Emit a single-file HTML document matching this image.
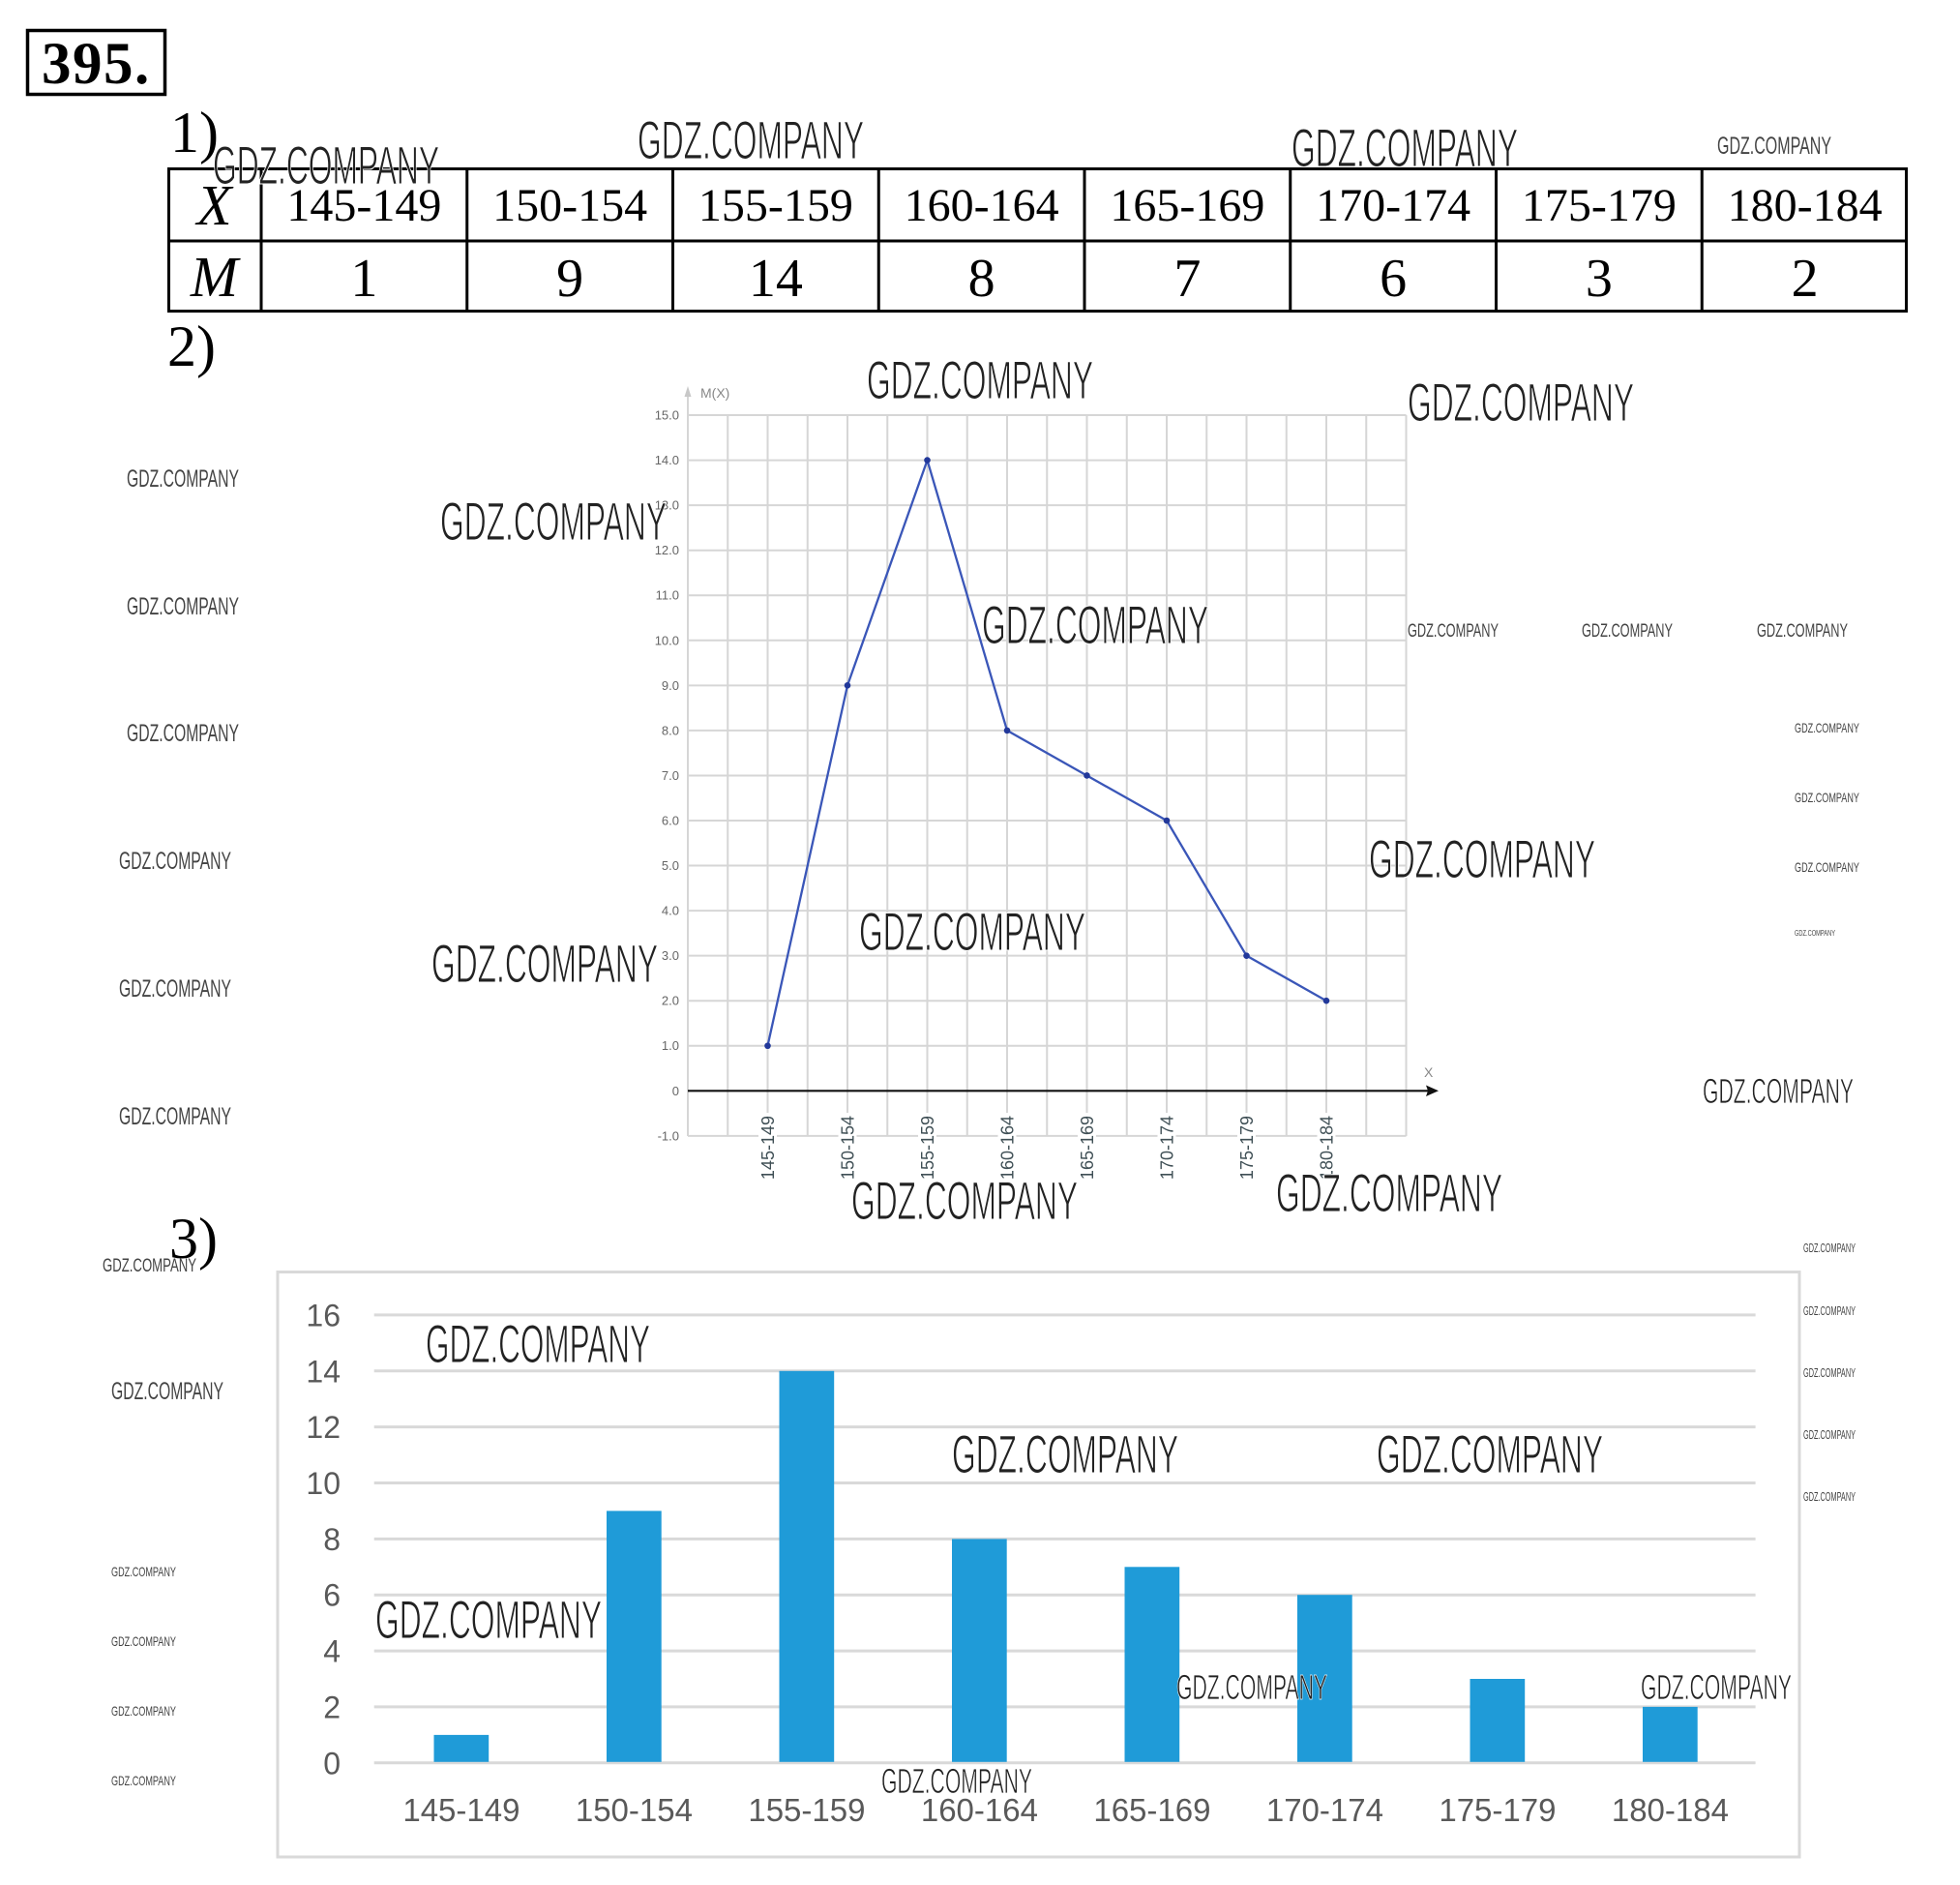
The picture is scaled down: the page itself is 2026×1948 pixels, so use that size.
<!DOCTYPE html>
<html>
<head>
<meta charset="utf-8">
<style>
  html,body{margin:0;padding:0;background:#fff;}
  body{width:2026px;height:1948px;overflow:hidden;}
  svg{display:block;}
  .serif{font-family:"Liberation Serif",serif;}
  .sans{font-family:"Liberation Sans",sans-serif;}
  .wm{font-family:"Liberation Sans Narrow","Liberation Sans",sans-serif;fill:#222;stroke:#fff;stroke-width:1.1px;}
  .wms{font-family:"Liberation Sans Narrow","Liberation Sans",sans-serif;fill:#444;}
</style>
</head>
<body>
<svg width="2026" height="1948" viewBox="0 0 2026 1948" xmlns="http://www.w3.org/2000/svg">
  <rect x="0" y="0" width="2026" height="1948" fill="#fff"/>

  <!-- 395. box -->
  <rect x="28.5" y="31.5" width="142" height="66" fill="none" stroke="#000" stroke-width="3.5"/>
  <text class="serif" x="43" y="86" font-size="61" font-weight="bold" letter-spacing="1.5">395.</text>

  <!-- section labels -->
  <text class="serif" x="176" y="157" font-size="60">1)</text>
  <text class="serif" x="173" y="378" font-size="60">2)</text>
  <text class="serif" x="175" y="1300" font-size="60">3)</text>

  <!-- TABLE -->
  <g stroke="#000" stroke-width="3" fill="none">
    <rect x="174.5" y="174.5" width="1796" height="147"/>
    <line x1="173" y1="249" x2="1972" y2="249"/>
    <line x1="270" y1="173" x2="270" y2="323"/>
    <line x1="482.75" y1="173" x2="482.75" y2="323"/>
    <line x1="695.5" y1="173" x2="695.5" y2="323"/>
    <line x1="908.25" y1="173" x2="908.25" y2="323"/>
    <line x1="1121" y1="173" x2="1121" y2="323"/>
    <line x1="1333.75" y1="173" x2="1333.75" y2="323"/>
    <line x1="1546.5" y1="173" x2="1546.5" y2="323"/>
    <line x1="1759.25" y1="173" x2="1759.25" y2="323"/>
  </g>
  <g class="serif" text-anchor="middle" fill="#000">
    <text x="221.5" y="232" font-size="59" font-style="italic">X</text>
    <text x="221.5" y="306" font-size="59" font-style="italic">M</text>
    <g font-size="48">
      <text x="376.4" y="228">145-149</text>
      <text x="589.1" y="228">150-154</text>
      <text x="801.9" y="228">155-159</text>
      <text x="1014.6" y="228">160-164</text>
      <text x="1227.4" y="228">165-169</text>
      <text x="1440.1" y="228">170-174</text>
      <text x="1652.9" y="228">175-179</text>
      <text x="1865.6" y="228">180-184</text>
    </g>
    <g font-size="56">
      <text x="376.4" y="306">1</text>
      <text x="589.1" y="306">9</text>
      <text x="801.9" y="306">14</text>
      <text x="1014.6" y="306">8</text>
      <text x="1227.4" y="306">7</text>
      <text x="1440.1" y="306">6</text>
      <text x="1652.9" y="306">3</text>
      <text x="1865.6" y="306">2</text>
    </g>
  </g>

  <!-- LINE CHART -->
  <g stroke="#d6d6d6" stroke-width="2" fill="none">
    <line x1="711" y1="429.05" x2="1453.5" y2="429.05"/>
    <line x1="711" y1="475.6" x2="1453.5" y2="475.6"/>
    <line x1="711" y1="522.15" x2="1453.5" y2="522.15"/>
    <line x1="711" y1="568.7" x2="1453.5" y2="568.7"/>
    <line x1="711" y1="615.25" x2="1453.5" y2="615.25"/>
    <line x1="711" y1="661.8" x2="1453.5" y2="661.8"/>
    <line x1="711" y1="708.35" x2="1453.5" y2="708.35"/>
    <line x1="711" y1="754.9" x2="1453.5" y2="754.9"/>
    <line x1="711" y1="801.45" x2="1453.5" y2="801.45"/>
    <line x1="711" y1="848" x2="1453.5" y2="848"/>
    <line x1="711" y1="894.55" x2="1453.5" y2="894.55"/>
    <line x1="711" y1="941.1" x2="1453.5" y2="941.1"/>
    <line x1="711" y1="987.65" x2="1453.5" y2="987.65"/>
    <line x1="711" y1="1034.2" x2="1453.5" y2="1034.2"/>
    <line x1="711" y1="1080.75" x2="1453.5" y2="1080.75"/>
    <line x1="711" y1="1173.85" x2="1453.5" y2="1173.85"/>
    <line x1="711" y1="429" x2="711" y2="1174"/>
    <line x1="752.25" y1="429" x2="752.25" y2="1174"/>
    <line x1="793.5" y1="429" x2="793.5" y2="1174"/>
    <line x1="834.75" y1="429" x2="834.75" y2="1174"/>
    <line x1="876" y1="429" x2="876" y2="1174"/>
    <line x1="917.25" y1="429" x2="917.25" y2="1174"/>
    <line x1="958.5" y1="429" x2="958.5" y2="1174"/>
    <line x1="999.75" y1="429" x2="999.75" y2="1174"/>
    <line x1="1041" y1="429" x2="1041" y2="1174"/>
    <line x1="1082.25" y1="429" x2="1082.25" y2="1174"/>
    <line x1="1123.5" y1="429" x2="1123.5" y2="1174"/>
    <line x1="1164.75" y1="429" x2="1164.75" y2="1174"/>
    <line x1="1206" y1="429" x2="1206" y2="1174"/>
    <line x1="1247.25" y1="429" x2="1247.25" y2="1174"/>
    <line x1="1288.5" y1="429" x2="1288.5" y2="1174"/>
    <line x1="1329.75" y1="429" x2="1329.75" y2="1174"/>
    <line x1="1371" y1="429" x2="1371" y2="1174"/>
    <line x1="1412.25" y1="429" x2="1412.25" y2="1174"/>
    <line x1="1453.5" y1="429" x2="1453.5" y2="1174"/>
    <line x1="711" y1="406" x2="711" y2="429"/>
  </g>
  <polygon points="711,399 707.5,410 714.5,410" fill="#c8c8c8"/>
  <text class="sans" x="724" y="411" font-size="14" fill="#888">M(X)</text>
  <line x1="711" y1="1127.3" x2="1478" y2="1127.3" stroke="#111" stroke-width="2.2"/>
  <polygon points="1487,1127.3 1474,1121.5 1476,1127.3 1474,1133" fill="#111"/>
  <text class="sans" x="1472" y="1113" font-size="14" fill="#888">X</text>
  <g class="sans" font-size="13" fill="#666" text-anchor="end">
    <text x="702" y="433.5">15.0</text>
    <text x="702" y="480">14.0</text>
    <text x="702" y="526.6">13.0</text>
    <text x="702" y="573.2">12.0</text>
    <text x="702" y="619.7">11.0</text>
    <text x="702" y="666.3">10.0</text>
    <text x="702" y="712.8">9.0</text>
    <text x="702" y="759.4">8.0</text>
    <text x="702" y="805.9">7.0</text>
    <text x="702" y="852.5">6.0</text>
    <text x="702" y="899">5.0</text>
    <text x="702" y="945.6">4.0</text>
    <text x="702" y="992.1">3.0</text>
    <text x="702" y="1038.7">2.0</text>
    <text x="702" y="1085.2">1.0</text>
    <text x="702" y="1131.8">0</text>
    <text x="702" y="1178.3">-1.0</text>
  </g>
  <polyline points="793.5,1080.75 876,708.35 958.5,475.6 1041,754.9 1123.5,801.45 1206,848 1288.5,987.65 1371,1034.2" fill="none" stroke="#3a56b8" stroke-width="2.3" stroke-linejoin="round"/>
  <g fill="#22389a">
    <circle cx="793.5" cy="1080.75" r="3.3"/>
    <circle cx="876" cy="708.35" r="3.3"/>
    <circle cx="958.5" cy="475.6" r="3.3"/>
    <circle cx="1041" cy="754.9" r="3.3"/>
    <circle cx="1123.5" cy="801.45" r="3.3"/>
    <circle cx="1206" cy="848" r="3.3"/>
    <circle cx="1288.5" cy="987.65" r="3.3"/>
    <circle cx="1371" cy="1034.2" r="3.3"/>
  </g>
  <g class="sans" font-size="18" fill="#3f4f55" text-anchor="end">
    <rect x="784" y="1150" width="19" height="70" fill="#fff"/>
    <rect x="866.5" y="1150" width="19" height="70" fill="#fff"/>
    <rect x="949" y="1150" width="19" height="70" fill="#fff"/>
    <rect x="1031.5" y="1150" width="19" height="70" fill="#fff"/>
    <rect x="1114" y="1150" width="19" height="70" fill="#fff"/>
    <rect x="1196.5" y="1150" width="19" height="70" fill="#fff"/>
    <rect x="1279" y="1150" width="19" height="70" fill="#fff"/>
    <rect x="1361.5" y="1150" width="19" height="70" fill="#fff"/>
    <text transform="translate(800,1153) rotate(-90)">145-149</text>
    <text transform="translate(882.5,1153) rotate(-90)">150-154</text>
    <text transform="translate(965,1153) rotate(-90)">155-159</text>
    <text transform="translate(1047.5,1153) rotate(-90)">160-164</text>
    <text transform="translate(1130,1153) rotate(-90)">165-169</text>
    <text transform="translate(1212.5,1153) rotate(-90)">170-174</text>
    <text transform="translate(1295,1153) rotate(-90)">175-179</text>
    <text transform="translate(1377.5,1153) rotate(-90)">180-184</text>
  </g>

  <!-- BAR CHART -->
  <rect x="287" y="1314.5" width="1573" height="604.5" fill="none" stroke="#d9d9d9" stroke-width="3"/>
  <g stroke="#d9d9d9" stroke-width="3">
    <line x1="386.7" y1="1358.9" x2="1814.6" y2="1358.9"/>
    <line x1="386.7" y1="1416.8" x2="1814.6" y2="1416.8"/>
    <line x1="386.7" y1="1474.6" x2="1814.6" y2="1474.6"/>
    <line x1="386.7" y1="1532.5" x2="1814.6" y2="1532.5"/>
    <line x1="386.7" y1="1590.4" x2="1814.6" y2="1590.4"/>
    <line x1="386.7" y1="1648.2" x2="1814.6" y2="1648.2"/>
    <line x1="386.7" y1="1706.1" x2="1814.6" y2="1706.1"/>
    <line x1="386.7" y1="1763.9" x2="1814.6" y2="1763.9"/>
    <line x1="386.7" y1="1821.8" x2="1814.6" y2="1821.8"/>
  </g>
  <g fill="#1f9bd8">
    <rect x="448.5" y="1792.9" width="56.7" height="27.9"/>
    <rect x="627.0" y="1561.4" width="56.7" height="259.4"/>
    <rect x="805.5" y="1416.8" width="56.7" height="404"/>
    <rect x="984.0" y="1590.4" width="56.7" height="230.4"/>
    <rect x="1162.5" y="1619.3" width="56.7" height="201.5"/>
    <rect x="1341.0" y="1648.2" width="56.7" height="172.6"/>
    <rect x="1519.5" y="1735.0" width="56.7" height="85.8"/>
    <rect x="1698.0" y="1763.9" width="56.7" height="56.9"/>
  </g>
  <g class="sans" font-size="32" fill="#595959" text-anchor="end">
    <text x="352" y="1370.4">16</text>
    <text x="352" y="1428.3">14</text>
    <text x="352" y="1486.1">12</text>
    <text x="352" y="1544">10</text>
    <text x="352" y="1601.9">8</text>
    <text x="352" y="1659.7">6</text>
    <text x="352" y="1717.6">4</text>
    <text x="352" y="1775.4">2</text>
    <text x="352" y="1833.3">0</text>
  </g>
  <g class="sans" font-size="33" fill="#595959" text-anchor="middle">
    <text x="476.9" y="1882">145-149</text>
    <text x="655.4" y="1882">150-154</text>
    <text x="833.9" y="1882">155-159</text>
    <text x="1012.4" y="1882">160-164</text>
    <text x="1190.9" y="1882">165-169</text>
    <text x="1369.4" y="1882">170-174</text>
    <text x="1547.9" y="1882">175-179</text>
    <text x="1726.4" y="1882">180-184</text>
  </g>

  <!-- WATERMARKS big -->
  <g class="wm" font-size="56">
    <text x="220" y="190" textLength="234" lengthAdjust="spacingAndGlyphs">GDZ.COMPANY</text>
    <text x="659" y="164" textLength="234" lengthAdjust="spacingAndGlyphs">GDZ.COMPANY</text>
    <text x="1335" y="172" textLength="234" lengthAdjust="spacingAndGlyphs">GDZ.COMPANY</text>
    <text x="896" y="412" textLength="234" lengthAdjust="spacingAndGlyphs">GDZ.COMPANY</text>
    <text x="1455" y="435" textLength="234" lengthAdjust="spacingAndGlyphs">GDZ.COMPANY</text>
    <text x="455" y="558" textLength="234" lengthAdjust="spacingAndGlyphs">GDZ.COMPANY</text>
    <text x="1015" y="665" textLength="234" lengthAdjust="spacingAndGlyphs">GDZ.COMPANY</text>
    <text x="1415" y="907" textLength="234" lengthAdjust="spacingAndGlyphs">GDZ.COMPANY</text>
    <text x="888" y="982" textLength="234" lengthAdjust="spacingAndGlyphs">GDZ.COMPANY</text>
    <text x="446" y="1015" textLength="234" lengthAdjust="spacingAndGlyphs">GDZ.COMPANY</text>
    <text x="880" y="1260" textLength="234" lengthAdjust="spacingAndGlyphs">GDZ.COMPANY</text>
    <text x="1319" y="1252" textLength="234" lengthAdjust="spacingAndGlyphs">GDZ.COMPANY</text>
    <text x="440" y="1408" textLength="232" lengthAdjust="spacingAndGlyphs">GDZ.COMPANY</text>
    <text x="984" y="1522" textLength="234" lengthAdjust="spacingAndGlyphs">GDZ.COMPANY</text>
    <text x="1423" y="1522" textLength="234" lengthAdjust="spacingAndGlyphs">GDZ.COMPANY</text>
    <text x="388" y="1693" textLength="234" lengthAdjust="spacingAndGlyphs">GDZ.COMPANY</text>
  </g>
  <g class="wm" font-size="36" style="stroke-width:0.7px">
    <text x="1760" y="1140" textLength="156" lengthAdjust="spacingAndGlyphs">GDZ.COMPANY</text>
    <text x="1216" y="1756" textLength="156" lengthAdjust="spacingAndGlyphs">GDZ.COMPANY</text>
    <text x="1696" y="1756" textLength="156" lengthAdjust="spacingAndGlyphs">GDZ.COMPANY</text>
    <text x="911" y="1853" textLength="156" lengthAdjust="spacingAndGlyphs">GDZ.COMPANY</text>
  </g>
  <g class="wms" font-size="25">
    <text x="131" y="503" textLength="116" lengthAdjust="spacingAndGlyphs">GDZ.COMPANY</text>
    <text x="131" y="635" textLength="116" lengthAdjust="spacingAndGlyphs">GDZ.COMPANY</text>
    <text x="131" y="766" textLength="116" lengthAdjust="spacingAndGlyphs">GDZ.COMPANY</text>
    <text x="123" y="898" textLength="116" lengthAdjust="spacingAndGlyphs">GDZ.COMPANY</text>
    <text x="123" y="1030" textLength="116" lengthAdjust="spacingAndGlyphs">GDZ.COMPANY</text>
    <text x="123" y="1162" textLength="116" lengthAdjust="spacingAndGlyphs">GDZ.COMPANY</text>
    <text x="1775" y="159" textLength="118" lengthAdjust="spacingAndGlyphs">GDZ.COMPANY</text>
    <text x="115" y="1446" textLength="116" lengthAdjust="spacingAndGlyphs">GDZ.COMPANY</text>
  </g>
  <g class="wms" font-size="19">
    <text x="106" y="1314" textLength="97" lengthAdjust="spacingAndGlyphs">GDZ.COMPANY</text>
    <text x="1455" y="658" textLength="94" lengthAdjust="spacingAndGlyphs">GDZ.COMPANY</text>
    <text x="1635" y="658" textLength="94" lengthAdjust="spacingAndGlyphs">GDZ.COMPANY</text>
    <text x="1816" y="658" textLength="94" lengthAdjust="spacingAndGlyphs">GDZ.COMPANY</text>
  </g>
  <g class="wms" font-size="14">
    <text x="1855" y="757" textLength="67" lengthAdjust="spacingAndGlyphs">GDZ.COMPANY</text>
    <text x="1855" y="829" textLength="67" lengthAdjust="spacingAndGlyphs">GDZ.COMPANY</text>
    <text x="1855" y="901" textLength="67" lengthAdjust="spacingAndGlyphs">GDZ.COMPANY</text>
    <text x="115" y="1629" textLength="67" lengthAdjust="spacingAndGlyphs">GDZ.COMPANY</text>
    <text x="115" y="1701" textLength="67" lengthAdjust="spacingAndGlyphs">GDZ.COMPANY</text>
    <text x="115" y="1773" textLength="67" lengthAdjust="spacingAndGlyphs">GDZ.COMPANY</text>
    <text x="115" y="1845" textLength="67" lengthAdjust="spacingAndGlyphs">GDZ.COMPANY</text>
  </g>
  <g class="wms" font-size="13">
    <text x="1864" y="1294" textLength="54" lengthAdjust="spacingAndGlyphs">GDZ.COMPANY</text>
    <text x="1864" y="1359" textLength="54" lengthAdjust="spacingAndGlyphs">GDZ.COMPANY</text>
    <text x="1864" y="1423" textLength="54" lengthAdjust="spacingAndGlyphs">GDZ.COMPANY</text>
    <text x="1864" y="1487" textLength="54" lengthAdjust="spacingAndGlyphs">GDZ.COMPANY</text>
    <text x="1864" y="1551" textLength="54" lengthAdjust="spacingAndGlyphs">GDZ.COMPANY</text>
  </g>
  <g class="wms" font-size="8">
    <text x="1855" y="967" textLength="42" lengthAdjust="spacingAndGlyphs">GDZ.COMPANY</text>
  </g>
</svg>
</body>
</html>
